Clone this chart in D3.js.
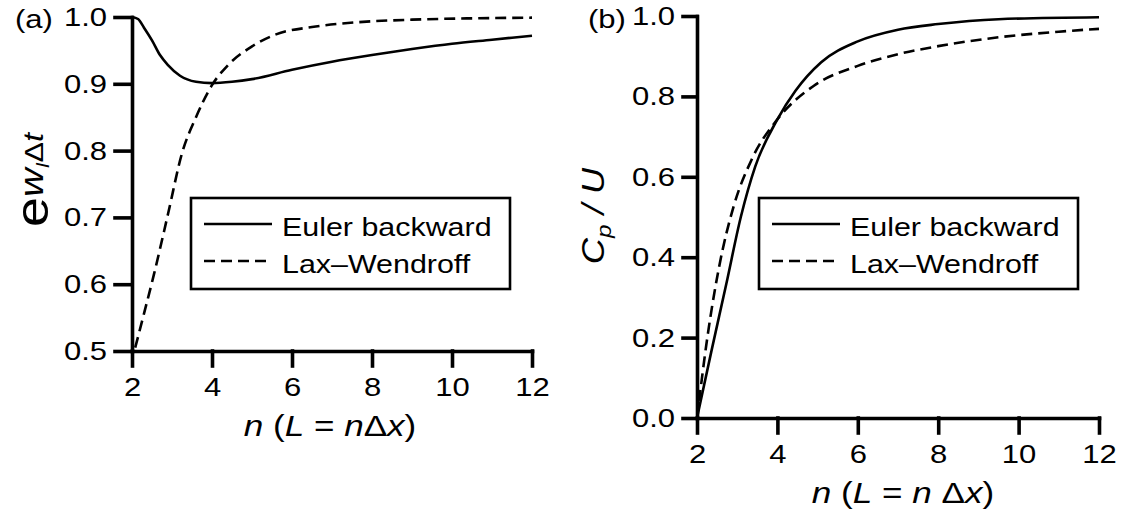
<!DOCTYPE html>
<html>
<head>
<meta charset="utf-8">
<script src="https://cdn.jsdelivr.net/npm/d3@7"></script>
<style>
body{margin:0;background:#fff;}
svg{display:block;font-family:"Liberation Sans",Arial,Helvetica,sans-serif;}
</style>
</head>
<body>
<svg id="chart" width="1128" height="514"></svg>
<script>
// values
var xTicks=[2,4,6,8,10,12];
var yTicksA=[0.5,0.6,0.7,0.8,0.9,1.0];
var yTicksB=[0.0,0.2,0.4,0.6,0.8,1.0];
var seriesNames=["Euler backward","Lax\u2013Wendroff"];

// panel (a): e^(w_I dt)
var nEulerA=[2,2.15,2.3,2.5,2.7,2.9,3.2,3.6,4.0,4.5,5,6,7,8,9,10,11,12];
var eulerA=[1.0,0.997,0.984,0.965,0.943,0.928,0.912,0.903,0.901,0.903,0.907,0.921,0.933,0.943,0.952,0.960,0.966,0.972];
var nLaxA=[2.08,2.3,2.55,2.9,3.25,3.6,4.0,4.4,5,5.6,6.5,7.6,9,10.5,12];
var laxA=[0.505,0.556,0.615,0.705,0.796,0.85,0.898,0.928,0.956,0.974,0.985,0.992,0.996,0.998,0.999];

// panel (b): Cp/U
var nEulerB=[2,2.36,2.73,3.09,3.45,4.0,4.45,5.09,6,7,8,9.5,12];
var eulerB=[0,0.167,0.334,0.50,0.626,0.743,0.814,0.885,0.937,0.966,0.98,0.992,0.997];
var nLaxB=[2,2.27,2.55,2.91,3.36,4.0,4.9,6,7,8,9.5,11,12];
var laxB=[0,0.209,0.376,0.526,0.643,0.743,0.826,0.876,0.905,0.925,0.947,0.961,0.968];

var svg=d3.select("#chart");
var dashes="11,6";
var SX=1.17; // the original type is a bit wide

// stretch text horizontally without moving its anchor
function widen(sel){
 sel.each(function(){
  var t=d3.select(this);
  var x=+(t.attr("x")||0);
  t.attr("x",x/SX).attr("transform","scale("+SX+",1)");
 });
}

var panels=[
 {tag:"(a)",tagX:15,x0:132,x1:532,yTop:17,yBot:351,dom:[0.5,1],ticks:yTicksA,tick:17,
  series:[[nEulerA,eulerA],[nLaxA,laxA]],leg:[191,198,319,91],xl:330,sp:""},
 {tag:"(b)",tagX:588,x0:697,x1:1099,yTop:16,yBot:418,dom:[0,1],ticks:yTicksB,tick:14,
  series:[[nEulerB,eulerB],[nLaxB,laxB]],leg:[759,198,319,91],xl:903,sp:" "}
];

panels.forEach(function(p){
 var x=d3.scaleLinear().domain([2,12]).range([p.x0,p.x1]);
 var y=d3.scaleLinear().domain(p.dom).range([p.yBot,p.yTop]);
 var g=svg.append("g");

 var line=d3.line().x(function(d){return x(d[0]);}).y(function(d){return y(d[1]);}).curve(d3.curveMonotoneX);
 p.series.forEach(function(s,i){
  var pts=s[0].map(function(v,k){return [v,s[1][k]];});
  g.append("path").attr("d",line(pts)).attr("fill","none").attr("stroke","#000")
   .attr("stroke-width",2.6).attr("stroke-dasharray",i==1?dashes:null);
 });

 var ax=g.append("g").attr("transform","translate("+p.x0+",0)")
  .call(d3.axisLeft(y).tickValues(p.ticks).tickFormat(d3.format(".1f")).tickSize(p.tick).tickSizeOuter(0).tickPadding(8));
 var bx=g.append("g").attr("transform","translate(0,"+p.yBot+")")
  .call(d3.axisBottom(x).tickValues(xTicks).tickFormat(d3.format("d")).tickSize(15).tickSizeOuter(0).tickPadding(11));
 [ax,bx].forEach(function(a){
  a.selectAll("path,line").attr("stroke","#000").attr("stroke-width",3.6).attr("stroke-linecap","square");
  a.selectAll("text").attr("fill","#000").attr("font-size",26.5).attr("font-family","'Liberation Sans',Arial,sans-serif").call(widen);
 });

 g.append("text").attr("x",p.tagX).attr("y",28).attr("font-size",26.5).text(p.tag).call(widen);

 // x title
 var xt=g.append("text").attr("x",p.xl).attr("y",p.yBot+85).attr("text-anchor","middle").attr("font-size",30);
 xt.append("tspan").attr("font-style","italic").text("n");
 xt.append("tspan").text(" (");
 xt.append("tspan").attr("font-style","italic").text("L");
 xt.append("tspan").text(" = ");
 xt.append("tspan").attr("font-style","italic").text("n"+p.sp);
 xt.append("tspan").text("\u0394");
 xt.append("tspan").attr("font-style","italic").text("x");
 xt.append("tspan").text(")");
 xt.call(widen);

 // legend
 var L=p.leg;
 var lg=g.append("g");
 lg.append("rect").attr("x",L[0]).attr("y",L[1]).attr("width",L[2]).attr("height",L[3])
  .attr("fill","#fff").attr("stroke","#000").attr("stroke-width",2.6);
 seriesNames.forEach(function(name,i){
  var ly=L[1]+26+i*37;
  lg.append("line").attr("x1",L[0]+13).attr("x2",L[0]+81).attr("y1",ly).attr("y2",ly)
   .attr("stroke","#000").attr("stroke-width",2.6).attr("stroke-dasharray",i==1?dashes:null);
  lg.append("text").attr("x",L[0]+91).attr("y",ly+12).attr("font-size",26).text(name).call(widen);
 });
});

// y titles
var ya=svg.append("text").attr("transform","translate(48,180) rotate(-90) scale("+SX+",1)").attr("text-anchor","middle");
ya.append("tspan").attr("font-size",46).text("e");
ya.append("tspan").attr("font-size",34).attr("font-style","italic").attr("dy",-5).text("w");
ya.append("tspan").attr("font-size",18).attr("font-style","italic").attr("dy",6).text("I");
ya.append("tspan").attr("font-size",26).attr("dy",-6).text("\u0394");
ya.append("tspan").attr("font-size",28).attr("font-style","italic").text("t");

var yb=svg.append("text").attr("transform","translate(604,216) rotate(-90) scale("+SX+",1)").attr("text-anchor","middle");
yb.append("tspan").attr("font-size",31).attr("font-style","italic").text("C");
yb.append("tspan").attr("font-size",21).attr("font-style","italic").attr("dy",7).text("p");
yb.append("tspan").attr("font-size",31).attr("font-style","italic").attr("dy",-7).text(" / U");
</script>
</body>
</html>
